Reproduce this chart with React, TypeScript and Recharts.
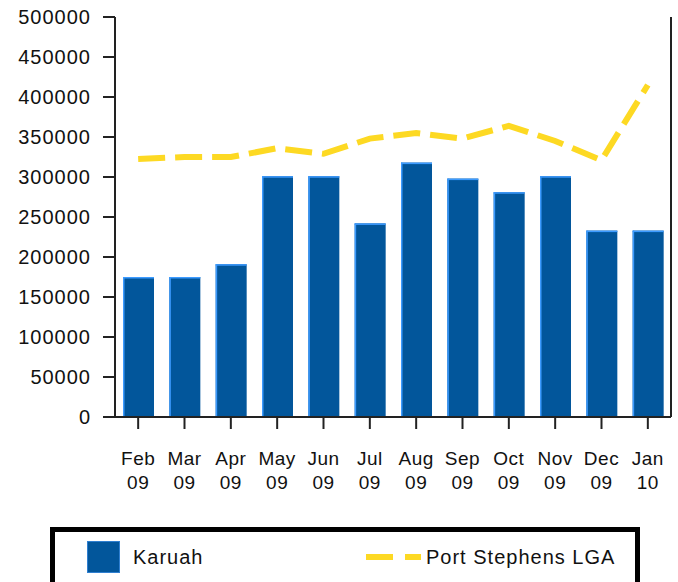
import React from 'react';
import { ComposedChart, Bar, Line, XAxis, YAxis, Legend } from 'recharts';

const months = ['Feb', 'Mar', 'Apr', 'May', 'Jun', 'Jul', 'Aug', 'Sep', 'Oct', 'Nov', 'Dec', 'Jan'];
const years = ['09', '09', '09', '09', '09', '09', '09', '09', '09', '09', '09', '10'];
const karuah = [175000, 175000, 191000, 301000, 301000, 242000, 318000, 298000, 281000, 301000, 233000, 233000];
const portStephens = [322500, 325000, 325000, 336000, 329000, 348000, 355000, 348000, 364000, 345000, 321000, 415000];
const yTicks = [0, 50000, 100000, 150000, 200000, 250000, 300000, 350000, 400000, 450000, 500000];

const data = months.map((m, i) => ({
  label: m + ' ' + years[i],
  karuah: karuah[i],
  port: portStephens[i],
}));

const FONT = '"Liberation Sans", Arial, sans-serif';
const BAR = '#02569B';
const YELLOW = '#FDD923';

const XTick = (props: any) => {
  const { x, y, payload } = props;
  const [m, yr] = String(payload.value).split(' ');
  return (
    <text x={x} y={y} textAnchor="middle" fontFamily={FONT} fontSize={19} fill="#111" letterSpacing={0.5}>
      <tspan x={x} dy={34}>{m}</tspan>
      <tspan x={x} dy={24}>{yr}</tspan>
    </text>
  );
};

const BarShape = (props: any) => {
  const { x, y, width, height } = props;
  if (height <= 0) return null;
  return (
    <g>
      <rect x={x} y={y} width={width} height={height} fill={BAR} />
      <rect x={x} y={y} width={1.5} height={height} fill="#3D9BFF" />
      <rect x={x} y={y} width={width} height={1.5} fill="#3D9BFF" />
    </g>
  );
};

const LegendBox = () => (
  <div
    style={{
      position: 'relative',
      width: 590,
      height: 70,
      boxSizing: 'border-box',
      border: '5px solid #000',
      background: '#fff',
      fontFamily: FONT,
      fontSize: 20,
      color: '#111',
      letterSpacing: 1,
    }}
  >
    <div style={{ position: 'absolute', left: 32, top: 9, width: 33, height: 32, background: BAR, boxSizing: 'border-box', border: '1px solid #2f7fd0' }} />
    <div style={{ position: 'absolute', left: 78, top: 13, lineHeight: '24px' }}>Karuah</div>
    <svg style={{ position: 'absolute', left: 311, top: 21 }} width={55} height={8}>
      <line x1={0} y1={4} x2={55} y2={4} stroke={YELLOW} strokeWidth={6} strokeDasharray="27 12" />
    </svg>
    <div style={{ position: 'absolute', left: 371, top: 13, lineHeight: '24px' }}>Port Stephens LGA</div>
  </div>
);

export default function App() {
  return (
    <div style={{ position: 'absolute', left: 0, top: 0, width: 678, height: 582, background: '#fff', overflow: 'hidden' }}>
      <ComposedChart
        width={678}
        height={582}
        data={data}
        margin={{ top: 17, right: 0, bottom: 0, left: 0 }}
        barCategoryGap={0}
      >
        <XAxis
          dataKey="label"
          height={165}
          interval={0}
          tick={<XTick />}
          tickSize={12}
          tickMargin={2}
          axisLine={{ stroke: '#222', strokeWidth: 2 }}
          tickLine={{ stroke: '#222', strokeWidth: 2 }}
        />
        <YAxis
          yAxisId="l"
          width={115}
          domain={[0, 500000]}
          ticks={yTicks}
          interval={0}
          tickSize={12}
          tickMargin={12}
          axisLine={{ stroke: '#222', strokeWidth: 2 }}
          tickLine={{ stroke: '#222', strokeWidth: 2 }}
          tick={{ fontFamily: FONT, fontSize: 20, fill: '#111', letterSpacing: 1 } as any}
        />
        <YAxis
          yAxisId="r"
          orientation="right"
          width={7}
          domain={[0, 500000]}
          tick={false}
          tickLine={false}
          axisLine={{ stroke: '#222', strokeWidth: 2 }}
        />
        <Bar yAxisId="l" dataKey="karuah" name="Karuah" barSize={31} fill={BAR} shape={<BarShape />} isAnimationActive={false} />
        <Line
          yAxisId="l"
          dataKey="port"
          name="Port Stephens LGA"
          type="linear"
          stroke={YELLOW}
          strokeWidth={6}
          strokeDasharray="27 10"
          dot={false}
          activeDot={false}
          isAnimationActive={false}
        />
        <Legend
          layout="horizontal"
          verticalAlign="middle"
          align="center"
          wrapperStyle={{ position: 'absolute', left: 50, top: 527, width: 590, height: 70 }}
          content={<LegendBox />}
        />
      </ComposedChart>
    </div>
  );
}
